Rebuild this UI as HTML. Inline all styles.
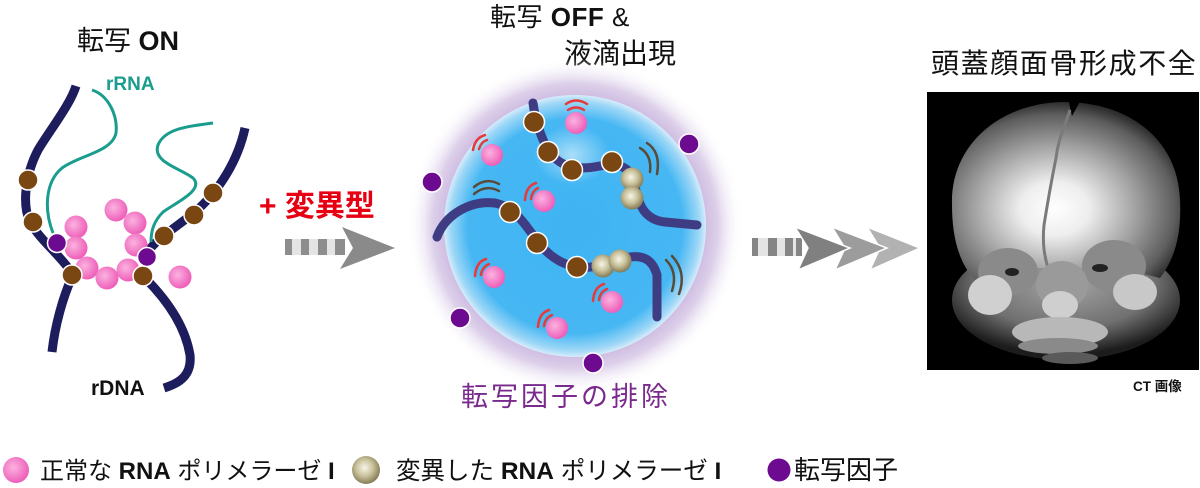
<!DOCTYPE html>
<html><head><meta charset="utf-8"><style>
html,body{margin:0;padding:0;background:#fff;}
svg{display:block;}
text{font-family:"Liberation Sans","Noto Sans CJK JP",sans-serif;}
</style></head><body>
<svg width="1200" height="488" viewBox="0 0 1200 488" xmlns="http://www.w3.org/2000/svg">
<defs>
<radialGradient id="pink" cx="0.4" cy="0.4" r="0.6"><stop offset="0" stop-color="#fbb3e0"/><stop offset="1" stop-color="#ee5fb9"/></radialGradient>
<radialGradient id="olive" cx="0.45" cy="0.42" r="0.6"><stop offset="0" stop-color="#f7f5e8"/><stop offset="0.5" stop-color="#c9c29c"/><stop offset="1" stop-color="#7f7650"/></radialGradient>
<radialGradient id="halo" cx="0.5" cy="0.5" r="0.5"><stop offset="0.74" stop-color="#c9b4de"/><stop offset="0.85" stop-color="#ddd0ea"/><stop offset="1" stop-color="#ffffff" stop-opacity="0"/></radialGradient>
<radialGradient id="sph" cx="0.5" cy="0.5" r="0.5"><stop offset="0" stop-color="#3fb4f3"/><stop offset="0.82" stop-color="#46b7f3"/><stop offset="0.95" stop-color="#9ed7f7"/><stop offset="1" stop-color="#d6ecfa"/></radialGradient>
<radialGradient id="hl" cx="0.5" cy="0.5" r="0.5"><stop offset="0" stop-color="#ffffff" stop-opacity="0.55"/><stop offset="1" stop-color="#ffffff" stop-opacity="0"/></radialGradient>
<radialGradient id="skull" cx="0.45" cy="0.6" r="0.6"><stop offset="0" stop-color="#ffffff"/><stop offset="0.25" stop-color="#eeeeee"/><stop offset="0.6" stop-color="#a0a0a0"/><stop offset="0.88" stop-color="#5e5e5e"/><stop offset="1" stop-color="#2e2e2e"/></radialGradient>
<radialGradient id="face" cx="0.5" cy="0.35" r="0.6"><stop offset="0" stop-color="#a5a5a5"/><stop offset="0.65" stop-color="#707070"/><stop offset="1" stop-color="#1c1c1c"/></radialGradient>
</defs>

<!-- Left: transcription ON -->
<text x="77" y="50" font-size="27" fill="#111">転写 <tspan font-weight="bold">ON</tspan></text>
<text x="106" y="90" font-size="19" font-weight="bold" fill="#1a9c8e">rRNA</text>
<text x="91" y="395" font-size="21" font-weight="bold" fill="#111">rDNA</text>

<g fill="none" stroke="#1d1c5c" stroke-width="9" stroke-linecap="butt">
<path d="M76,86 C70,105 50,130 38,150 C25,175 22,205 30,222 C40,240 60,255 72,273"/>
<path d="M72,277 C63,297 55,325 52,352"/>
<path d="M245,128 C238,160 220,190 195,212 C175,228 155,240 147,253"/>
<path d="M145,278 C165,298 185,325 190,355 C192,375 180,383 164,388"/>
</g>
<g fill="none" stroke="#1a9c8e" stroke-width="3">
<path d="M92,90 C108,95 118,115 116,133 C112,152 80,155 62,168 C45,182 44,210 53,233"/>
<path d="M213,123 C190,126 165,128 158,145 C152,162 180,168 193,178 C205,190 175,203 163,212 C153,222 151,232 151,242"/>
</g>
<g fill="url(#pink)">
<circle cx="116" cy="210" r="11.5"/><circle cx="135" cy="223" r="11.5"/><circle cx="76" cy="227" r="11.5"/>
<circle cx="136" cy="245" r="11.5"/><circle cx="76" cy="248" r="11.5"/><circle cx="87" cy="268" r="11.5"/>
<circle cx="128" cy="270" r="11.5"/><circle cx="107" cy="278" r="11.5"/><circle cx="180" cy="277" r="11.5"/>
</g>
<g fill="#7a4712" stroke="#fff" stroke-width="1.5">
<circle cx="28" cy="180" r="10"/><circle cx="33" cy="222" r="10"/><circle cx="72" cy="275" r="10"/>
<circle cx="143" cy="276" r="10"/><circle cx="164" cy="236" r="10"/><circle cx="194" cy="215" r="10"/><circle cx="213" cy="193" r="10"/>
</g>
<g fill="#6c0b8f" stroke="#fff" stroke-width="1.5">
<circle cx="57" cy="243" r="9.5"/><circle cx="147" cy="257" r="9.5"/>
</g>

<!-- + mutant and arrow 1 -->
<text x="259" y="216" font-size="30" font-weight="bold" fill="#e60012">+ 変異型</text>
<rect x="285" y="239" width="60" height="16" fill="#e4e4e4"/>
<g fill="#8d8d8d"><rect x="285" y="239" width="7" height="16"/><rect x="301" y="239" width="8" height="16"/><rect x="318" y="239" width="9" height="16"/><rect x="335" y="239" width="10" height="16"/></g>
<polygon points="342,227 395,248 340,269 353,248" fill="#8a8a8a"/>

<!-- Middle: droplet -->
<text x="490" y="26" font-size="26" fill="#111" letter-spacing="0.5">転写 <tspan font-weight="bold">OFF</tspan> &amp;</text>
<text x="564" y="63" font-size="28" fill="#111">液滴出現</text>
<circle cx="575" cy="226" r="168" fill="url(#halo)"/>
<circle cx="575" cy="226" r="131" fill="url(#sph)"/>
<ellipse cx="572" cy="155" rx="38" ry="30" fill="url(#hl)"/>
<g fill="none" stroke="#3e3d84" stroke-width="9" stroke-linecap="round">
<path d="M533,103 C536,125 545,150 555,158 C565,168 580,170 600,166 C620,162 632,168 635,185 C638,205 645,220 665,222 L697,225"/>
<path d="M437,237 C445,215 470,200 495,203 C520,208 530,235 545,250 C560,265 580,272 605,264 C630,255 650,250 657,275 L657,317"/>
</g>
<g fill="none" stroke="#5a4a3a" stroke-width="2.5" stroke-linecap="round">
<path d="M474,194 Q486,184 499,191"/><path d="M474,187 Q486,177 499,184"/>
<path d="M640,148 Q652,155 650,172"/><path d="M647,143 Q661,152 657,174"/>
<path d="M666,260 Q678,272 672,291"/><path d="M672,256 Q687,272 679,294"/>
</g>
<g fill="none" stroke="#e83a3a" stroke-width="2.5" stroke-linecap="round">
<path d="M568,110 Q576,105 584,110"/><path d="M566,104 Q576,97 587,104"/>
<path d="M479,149 Q481,142 487,140"/><path d="M473,150 Q475,138 485,135"/>
<path d="M531,199 Q532,191 538,188"/><path d="M525,200 Q526,186 536,183"/>
<path d="M481,275 Q482,267 489,264"/><path d="M475,276 Q476,262 486,259"/>
<path d="M599,300 Q600,292 607,289"/><path d="M593,301 Q594,287 604,284"/>
<path d="M544,326 Q545,318 552,315"/><path d="M538,327 Q539,313 549,310"/>
</g>
<g fill="url(#pink)">
<circle cx="576" cy="123" r="11"/><circle cx="492" cy="155" r="11"/><circle cx="544" cy="201" r="11"/>
<circle cx="494" cy="277" r="11"/><circle cx="612" cy="302" r="11"/><circle cx="557" cy="328" r="11"/>
</g>
<g fill="#7a4712" stroke="#fff" stroke-width="1.5">
<circle cx="534" cy="122" r="10.5"/><circle cx="548" cy="152" r="10.5"/><circle cx="572" cy="170" r="10.5"/><circle cx="612" cy="162" r="10.5"/>
<circle cx="510" cy="212" r="10.5"/><circle cx="537" cy="243" r="10.5"/><circle cx="577" cy="267" r="10.5"/>
</g>
<g fill="url(#olive)">
<circle cx="632" cy="179" r="11.5"/><circle cx="632" cy="198" r="11.5"/><circle cx="603" cy="266" r="11.5"/><circle cx="620" cy="261" r="11.5"/>
</g>
<g fill="#6c0b8f" stroke="#fff" stroke-width="1.5">
<circle cx="689" cy="144" r="10"/><circle cx="432" cy="182" r="10"/><circle cx="460" cy="318" r="10"/><circle cx="593" cy="363" r="10"/>
</g>
<text x="461" y="406" font-size="27" fill="#7a2a8c" letter-spacing="3">転写因子の排除</text>

<!-- arrow 2 -->
<rect x="752" y="238" width="50" height="18" fill="#e4e4e4"/>
<g fill="#858585"><rect x="752" y="238" width="6" height="18"/><rect x="768" y="238" width="9" height="18"/><rect x="785" y="238" width="8" height="18"/><rect x="796" y="238" width="6" height="18"/></g>
<polygon points="867,227 920,248 870,270 880,248" fill="#b2b2b2" stroke="#fff" stroke-width="1.5"/>
<polygon points="832,227 887,248 835,270 845,248" fill="#9c9c9c" stroke="#fff" stroke-width="1.5"/>
<polygon points="795,227 850,248 798,270 808,248" fill="#808080" stroke="#fff" stroke-width="1.5"/>

<!-- Right: CT -->
<text x="931" y="73" font-size="28" fill="#111" letter-spacing="1.6">頭蓋顔面骨形成不全</text>
<rect x="927" y="92" width="272" height="278" fill="#000"/>
<ellipse cx="1066" cy="300" rx="114" ry="60" fill="url(#face)"/>
<path d="M952,205 C950,145 1000,103 1063,102 C1130,102 1178,140 1180,200 C1182,240 1172,262 1160,278 L1120,268 L1010,268 L975,280 C958,262 952,235 952,205 Z" fill="url(#skull)"/>
<path d="M1068,98 L1082,98 L1072,116 Z" fill="#000"/>
<path d="M1070,110 C1064,128 1058,140 1056,158 C1052,178 1048,200 1044,225 C1042,245 1045,258 1048,268" fill="none" stroke="#7a7a7a" stroke-width="3"/>
<g>
<ellipse cx="1008" cy="272" rx="30" ry="24" fill="#8a8a8a"/><ellipse cx="1114" cy="266" rx="32" ry="26" fill="#8a8a8a"/>
<ellipse cx="990" cy="295" rx="22" ry="20" fill="#d0d0d0"/><ellipse cx="1135" cy="292" rx="22" ry="18" fill="#c8c8c8"/>
<ellipse cx="1062" cy="285" rx="26" ry="24" fill="#9a9a9a"/>
<ellipse cx="1060" cy="305" rx="18" ry="14" fill="#cfcfcf"/>
<ellipse cx="1060" cy="332" rx="48" ry="15" fill="#b8b8b8"/>
<ellipse cx="1058" cy="346" rx="40" ry="8" fill="#8a8a8a"/>
<ellipse cx="1070" cy="358" rx="28" ry="6" fill="#5a5a5a"/>
<ellipse cx="1012" cy="272" rx="7" ry="4" fill="#222"/><ellipse cx="1100" cy="268" rx="8" ry="4" fill="#222"/>
</g>
<text x="1133" y="391" font-size="13.5" font-weight="bold" fill="#111">CT 画像</text>

<!-- Legend -->
<circle cx="16" cy="470" r="13" fill="url(#pink)"/>
<text x="40" y="479" font-size="24" fill="#111">正常な <tspan font-weight="bold">RNA</tspan> ポリメラーゼ <tspan font-weight="bold">I</tspan></text>
<circle cx="366" cy="470" r="14" fill="url(#olive)"/>
<text x="396" y="479" font-size="24.5" fill="#111">変異した <tspan font-weight="bold">RNA</tspan> ポリメラーゼ <tspan font-weight="bold">I</tspan></text>
<circle cx="779" cy="470" r="11.5" fill="#6c0b8f"/>
<text x="794" y="479" font-size="26" fill="#111">転写因子</text>
</svg>
</body></html>
